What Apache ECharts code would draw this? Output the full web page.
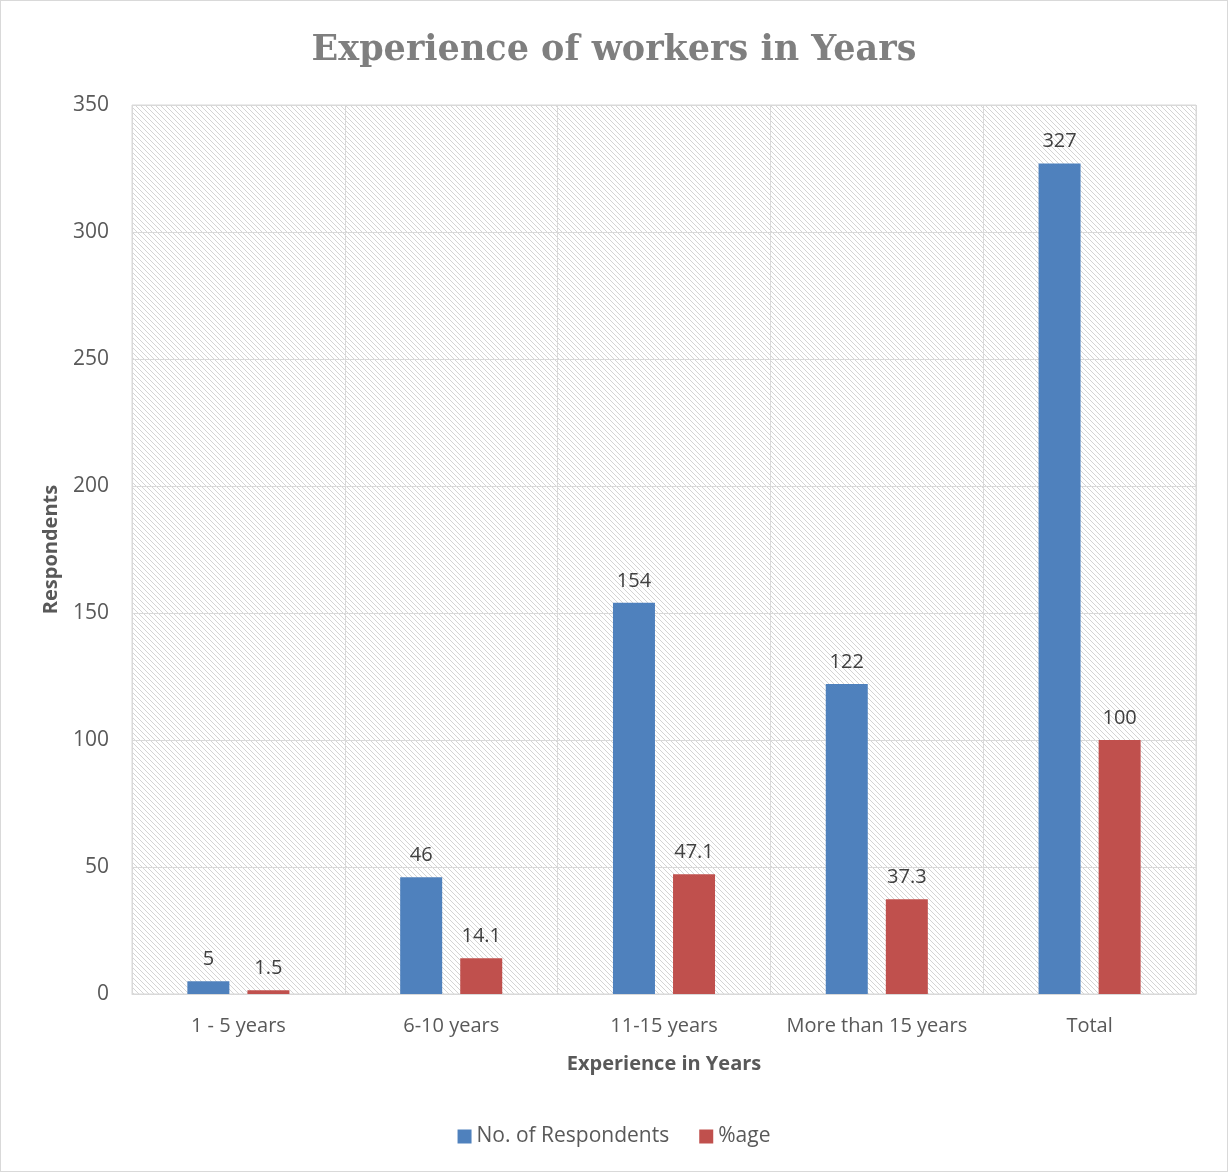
<!DOCTYPE html>
<html>
<head>
<meta charset="utf-8">
<script src="https://cdn.jsdelivr.net/npm/echarts@6/dist/echarts.min.js"></script>
<style>
  html, body { margin: 0; padding: 0; background: #fff; }
  #chart { width: 1228px; height: 1172px; box-sizing: border-box; border: 1px solid #d9d9d9; }
</style>
</head>
<body>
<div id="chart"></div>
<script>
// Experience bands and values
const categories = ['1 - 5 years', '6-10 years', '11-15 years', 'More than 15 years', 'Total'];
const respondents = [5, 46, 154, 122, 327];
const percentage = [1.5, 14.1, 47.1, 37.3, 100];
const yTicks = { min: 0, max: 350, interval: 50 };

// Diagonal hatch fill for the plot area
function makeHatch() {
  const c = document.createElement('canvas');
  c.width = 5; c.height = 5;
  const ctx = c.getContext('2d');
  ctx.fillStyle = '#ffffff';
  ctx.fillRect(0, 0, 5, 5);
  ctx.fillStyle = '#d4d4d4';
  for (let i = 0; i < 5; i++) ctx.fillRect(i, i, 1, 1);
  return c;
}

const chart = echarts.init(document.getElementById('chart'), null, { renderer: 'canvas' });
const textFont = '"Open Sans", "Liberation Sans", sans-serif';

chart.setOption({
  animation: false,
  title: {
    text: 'Experience of workers in Years',
    left: 'center',
    top: 27,
    textStyle: {
      fontFamily: '"DejaVu Serif", "Liberation Serif", serif',
      fontWeight: 'bold',
      fontSize: 35,
      color: '#7f7f7f'
    }
  },
  legend: {
    data: ['No. of Respondents', '%age'],
    left: 'center',
    top: 1120,
    itemWidth: 14,
    itemHeight: 14,
    itemGap: 30,
    icon: 'rect',
    textStyle: { fontFamily: textFont, fontSize: 21, color: '#595959' }
  },
  grid: {
    left: 131,
    right: 31,
    top: 104,
    bottom: 177,
    show: true,
    borderColor: '#d9d9d9',
    borderWidth: 1,
    backgroundColor: { image: makeHatch(), repeat: 'repeat' }
  },
  xAxis: {
    type: 'category',
    data: categories,
    name: 'Experience in Years',
    nameLocation: 'middle',
    nameGap: 60,
    nameTextStyle: { fontFamily: textFont, fontSize: 20, fontWeight: 'bold', color: '#595959' },
    axisLine: { lineStyle: { color: '#d9d9d9', width: 1 } },
    axisTick: { show: false },
    axisLabel: { interval: 0, fontFamily: textFont, fontSize: 20, color: '#595959', margin: 22 },
    splitLine: { show: true, interval: 0, lineStyle: { color: '#d9d9d9', width: 1 } }
  },
  yAxis: {
    type: 'value',
    min: yTicks.min,
    max: yTicks.max,
    interval: yTicks.interval,
    name: 'Respondents',
    nameLocation: 'middle',
    nameGap: 71,
    nameTextStyle: { fontFamily: textFont, fontSize: 20, fontWeight: 'bold', color: '#595959' },
    axisLine: { show: false },
    axisTick: { show: false },
    axisLabel: { fontFamily: textFont, fontSize: 21, color: '#595959', margin: 23 },
    splitLine: { show: true, lineStyle: { color: '#d9d9d9', width: 1 } }
  },
  series: [
    {
      name: 'No. of Respondents',
      type: 'bar',
      data: respondents,
      barWidth: 42,
      barGap: '43%',
      itemStyle: { color: '#4f81bd' },
      label: {
        show: true, position: 'top', distance: 12,
        fontFamily: textFont, fontSize: 20, color: '#404040'
      }
    },
    {
      name: '%age',
      type: 'bar',
      data: percentage,
      barWidth: 42,
      barGap: '43%',
      itemStyle: { color: '#c0504d' },
      label: {
        show: true, position: 'top', distance: 12,
        fontFamily: textFont, fontSize: 20, color: '#404040'
      }
    }
  ]
});
</script>
</body>
</html>
